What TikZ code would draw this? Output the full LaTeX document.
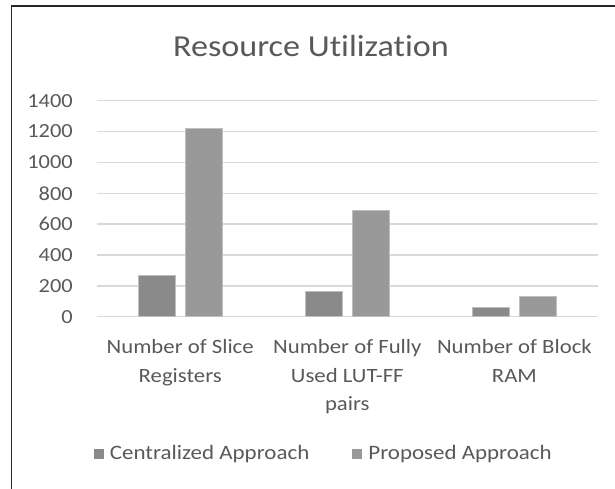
\documentclass[tikz,border=0pt]{standalone}
\usepackage{fontspec}
\setmainfont{Carlito}[FakeStretch=1.12, Ligatures=NoCommon]
\usepackage{tikz}
\usetikzlibrary{positioning}
\definecolor{ctext}{HTML}{595959}
\definecolor{cgrid}{HTML}{D9D9D9}
\definecolor{ccent}{HTML}{8A8A8A}
\definecolor{cprop}{HTML}{999999}
\definecolor{cbarline}{HTML}{BFBFBF}
\definecolor{cframe}{HTML}{262626}

\begin{document}
\begin{tikzpicture}[
    x=1pt, y=1pt,
    title/.style={text=ctext, font=\fontsize{30.5}{36}\selectfont, inner sep=0pt, anchor=base},
    ticklbl/.style={text=ctext, font=\fontsize{20}{24}\selectfont, anchor=east, inner sep=0pt},
    catlbl/.style={text=ctext, font=\fontsize{20.3}{28.4}\selectfont, align=center, anchor=north, inner sep=0pt},
    legbox/.style={minimum size=10pt, inner sep=0pt, draw=none},
    legtext/.style={text=ctext, font=\fontsize{20.5}{24}\selectfont, inner sep=0pt},
    gridline/.style={draw=cgrid, line width=1.5pt},
    bar/.style={draw=cbarline, line width=0.7pt},
    frame/.style={draw=cframe, line width=1.8pt}
]
\useasboundingbox (0,0) rectangle (615,489);
\draw[frame] (11.5,0) -- (11.5,483) -- (615,483);
\node[title] (ttl) at (311,432.3) {Resource Utilization};
\begin{scope}[shift={(96.7,172.3)}, y=0.1543pt]
  \foreach \v in {0,200,...,1400} {
    \draw[gridline] (0,\v) -- (501.3,\v);
    \node[ticklbl] (t\v) at (-23.7,\v) {\v};
  }
  \foreach \i/\a/\b in {0/270/1220, 1/162/688, 2/62/134} {
    \pgfmathsetmacro\cx{83.5+167.1*\i}
    \draw[bar, fill=ccent] (\cx-42.3,0) rectangle (\cx-5,\a);
    \draw[bar, fill=cprop] (\cx+5,0) rectangle (\cx+42.3,\b);
  }
\end{scope}
\node[catlbl] (cslice) at (180.2,149.5) {Number of Slice\\Registers};
\node[catlbl] (clut) at (347.3,149.5) {Number of Fully\\Used LUT-FF\\pairs};
\node[catlbl] (cbram) at (514.4,149.5) {Number of Block\\RAM};
\node[legbox, fill=ccent] (lcent) at (98.5,35) {};
\node[legtext, right=6pt of lcent] (lcenttxt) {Centralized Approach};
\node[legbox, fill=cprop] (lprop) at (357,35) {};
\node[legtext, right=6pt of lprop] (lproptxt) {Proposed Approach};
\end{tikzpicture}
\end{document}
